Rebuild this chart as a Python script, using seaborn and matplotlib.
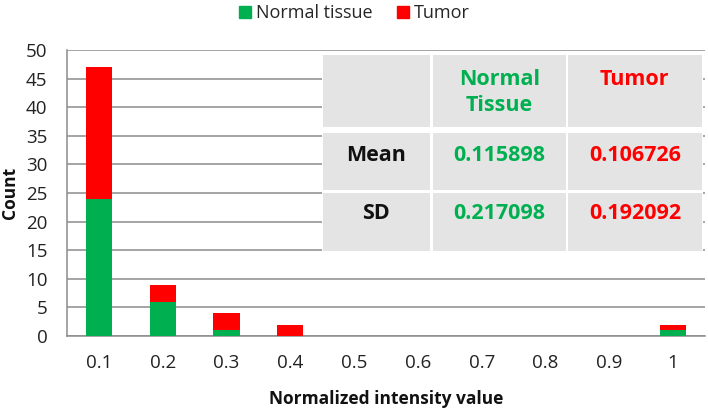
import matplotlib
matplotlib.use("Agg")
import matplotlib.pyplot as plt
import seaborn as sns
import pandas as pd
from matplotlib.patches import Rectangle
from matplotlib.lines import Line2D

# ---- data ----
categories = ["0.1", "0.2", "0.3", "0.4", "0.5", "0.6", "0.7", "0.8", "0.9", "1"]
normal_counts = [24, 6, 1, 0, 0, 0, 0, 0, 0, 1]
tumor_counts = [23, 3, 3, 2, 0, 0, 0, 0, 0, 1]
series_names = ["Normal tissue", "Tumor"]
table_cols = ["Normal\nTissue", "Tumor"]
table_rows = ["Mean", "SD"]
normal_stats = ["0.115898", "0.217098"]
tumor_stats = ["0.106726", "0.192092"]

GREEN = "#00B050"
RED = "#FF0000"
GRID = "#8c8c8c"

sns.set_theme(style="white")
plt.rcParams["font.family"] = ["Open Sans", "DejaVu Sans"]

df = pd.DataFrame({"cat": categories, "normal": normal_counts, "tumor": tumor_counts})
df["total"] = df["normal"] + df["tumor"]

fig = plt.figure(figsize=(7.08, 4.09), dpi=100)
ax = fig.add_axes([0.0946, 0.1785, 0.9012, 0.6993])

sns.barplot(data=df, x="cat", y="total", color=RED, width=0.41, ax=ax,
            saturation=1, zorder=3, linewidth=0)
sns.barplot(data=df, x="cat", y="normal", color=GREEN, width=0.41, ax=ax,
            saturation=1, zorder=4, linewidth=0)

ax.set_ylim(0, 50)
ax.set_xlim(-0.5, len(categories) - 0.5)
ax.set_yticks(range(0, 51, 5))
ax.yaxis.grid(True, color=GRID, linewidth=1.1, zorder=0)
ax.set_axisbelow(True)
for s in ["top", "right"]:
    ax.spines[s].set_visible(False)
for s in ["left", "bottom"]:
    ax.spines[s].set_color(GRID)
    ax.spines[s].set_linewidth(1.1)

# x ticks between categories
ax.set_xticks(range(len(categories)))
ax.set_xticklabels(categories)
ax.tick_params(axis="x", length=0, pad=13, labelsize=13.5, colors="#222222")
ax.set_xticks([i - 0.5 for i in range(len(categories) + 1)], minor=True)
ax.tick_params(axis="x", which="minor", length=6, width=1.1, color=GRID, direction="out")
ax.tick_params(axis="y", length=5, width=1.1, color=GRID, direction="out",
               labelsize=13.5, labelcolor="#222222", pad=9)

ax.set_xlabel("Normalized intensity value", fontsize=12.5, fontweight="bold",
              color="#111111", labelpad=13)
ax.set_ylabel("Count", fontsize=12.5, fontweight="bold", color="#111111", labelpad=5)

# legend
handles = [Line2D([], [], marker="s", linestyle="none", markersize=9,
                  markerfacecolor=c, markeredgecolor=c) for c in (GREEN, RED)]
fig.legend(handles, series_names, loc="center", bbox_to_anchor=(0.498, 0.967),
           ncol=2, frameon=False, fontsize=13, handletextpad=0.1,
           columnspacing=1.2, handlelength=1.0)

# ---- stats table ----
tr = ax.transAxes
ax.add_patch(Rectangle((0.399, 0.292), 0.598, 0.695, transform=tr,
                       facecolor="white", edgecolor="none", zorder=5, clip_on=False))
col_x = [(0.401, 0.569), (0.573, 0.782), (0.785, 0.995)]
row_y = [(0.731, 0.9825), (0.510, 0.710), (0.297, 0.500)]
for (x0, x1) in col_x:
    for (y0, y1) in row_y:
        ax.add_patch(Rectangle((x0, y0), x1 - x0, y1 - y0, transform=tr,
                               facecolor="#e4e4e4", edgecolor="none", zorder=6,
                               clip_on=False))

cx = [(a + b) / 2 for a, b in col_x]
fs = 15.5
ax.text(cx[1], 0.852, table_cols[0], transform=tr, ha="center", va="center",
        color=GREEN, fontsize=fs, fontweight="bold", zorder=7, linespacing=1.3)
ax.text(cx[2], 0.898, table_cols[1], transform=tr, ha="center", va="center",
        color=RED, fontsize=fs, fontweight="bold", zorder=7)
row_text_y = [0.632, 0.427]
for i, name in enumerate(table_rows):
    ax.text(cx[0], row_text_y[i], name, transform=tr, ha="center", va="center",
            color="#111111", fontsize=fs, fontweight="bold", zorder=7)
    ax.text(cx[1], row_text_y[i], normal_stats[i], transform=tr, ha="center",
            va="center", color=GREEN, fontsize=fs, fontweight="bold", zorder=7)
    ax.text(cx[2], row_text_y[i], tumor_stats[i], transform=tr, ha="center",
            va="center", color=RED, fontsize=fs, fontweight="bold", zorder=7)

fig.savefig("out.png", dpi=100)
